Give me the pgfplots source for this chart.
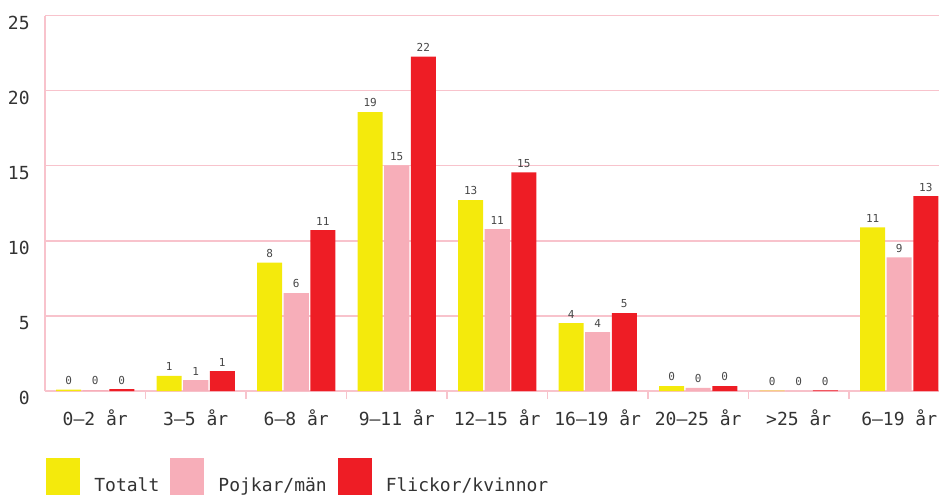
\documentclass[border=0pt]{standalone}
\usepackage{pgfplots}
\pgfplotsset{compat=1.18}
\usepackage{pgfplotstable}
\usepackage{fontspec}
\setmainfont{DejaVu Sans Mono}
\definecolor{cTot}{HTML}{F4EA0C}
\definecolor{cBoy}{HTML}{F7AEB9}
\definecolor{cGirl}{HTML}{EE1D25}
\definecolor{gridpink}{HTML}{F8C3CC}
\definecolor{txt}{HTML}{333333}

% ages: value and printed label for each group
\pgfplotstableread{
x tot tl boy bl girl gl
0 0.10 0 0.06 0 0.12 0
1 1.00 1 0.73 1 1.33 1
2 8.54 8 6.52 6 10.71 11
3 18.57 19 15.03 15 22.27 22
4 12.71 13 10.78 11 14.56 15
5 4.52 4 3.92 4 5.19 5
6 0.33 0 0.20 0 0.33 0
7 0.03 0 0.01 0 0.05 0
8 10.90 11 8.90 9 12.97 13
}\agedata

\begin{document}
\begin{tikzpicture}
\begin{axis}[
    name=ax,
    scale only axis,
    width=452.25pt, height=187.75pt,
    xmin=-0.5, xmax=8.5,
    ymin=0, ymax=25,
    ytick={0,5,...,25},
    xtick={0,...,8},
    xticklabels={0–2 år,3–5 år,6–8 år,9–11 år,12–15 år,16–19 år,20–25 år,>25 år,6–19 år},
    minor xtick={0.5,1.5,...,7.5},
    axis lines*=left,
    axis line style={draw=gridpink, line width=0.75pt},
    ymajorgrids,
    grid style={draw=gridpink, line width=0.75pt},
    major tick length=0pt,
    minor tick length=4pt,
    tick align=inside,
    minor tick style={draw=gridpink, line width=0.75pt},
    ytick style={draw=none},
    /pgf/number format/assume math mode=true,
    tick label style={font=\fontsize{9}{10}\selectfont, text=txt},
    yticklabel style={anchor=east, inner sep=0pt, xshift=-7.5pt, yshift=-3.5pt},
    xticklabel style={anchor=base, inner sep=0pt, yshift=-17pt},
    ybar, bar width=0.249,
    every axis plot/.append style={draw=none},
    nodes near coords={\pgfplotspointmeta},
    point meta=explicit symbolic,
    every node near coord/.append style={font=\fontsize{5.5}{6}\selectfont, text=txt!90, inner sep=0pt, anchor=south, yshift=2.3pt},
    legend columns=3,
    legend style={at={(0,0)}, anchor=north west, xshift=0.5pt, yshift=-33.5pt,
        draw=none, inner sep=0pt, font=\fontsize{9}{10}\selectfont, text=txt,
        /tikz/every odd column/.append style={column sep=5pt},
        /tikz/every even column/.append style={column sep=3.5pt}},
    legend image code/.code={\fill[#1] (0pt,-6pt) rectangle (17pt,14pt);},
]
\addplot[fill=cTot, bar shift=-0.264] table[x=x, y=tot, meta=tl] {\agedata};
\addplot[fill=cBoy, bar shift=0] table[x=x, y=boy, meta=bl] {\agedata};
\addplot[fill=cGirl, bar shift=0.264] table[x=x, y=girl, meta=gl] {\agedata};
\legend{Totalt, Pojkar/män, Flickor/kvinnor}
\end{axis}
\pgfresetboundingbox
\useasboundingbox ([xshift=-22.5pt, yshift=-51.5pt]ax.south west) rectangle ([xshift=447pt, yshift=195.5pt]ax.south west);
\end{tikzpicture}
\end{document}
